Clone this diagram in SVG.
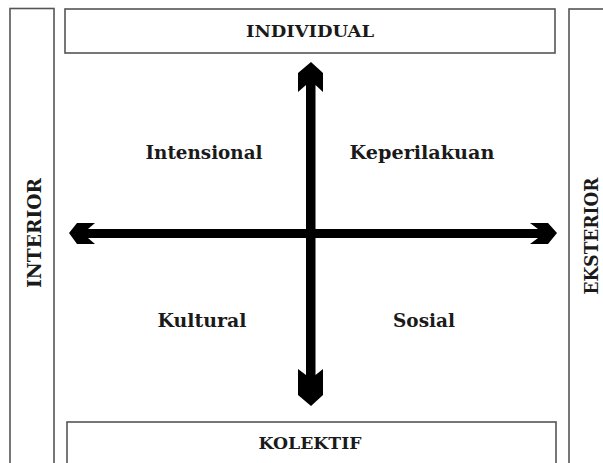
<svg xmlns="http://www.w3.org/2000/svg" width="603" height="463" viewBox="0 0 603 463">
<style>
.box{fill:#fff;stroke:#555;stroke-width:1.6}
.t{font-family:"DejaVu Serif","Liberation Serif",serif;font-weight:bold;fill:#1a1a1a;text-anchor:middle}
.arr{fill:#000}
</style>
<rect width="603" height="463" fill="#fff"/>
<g id="interior"><rect class="box" x="10" y="8.5" width="44" height="470"/>
<text class="t" font-size="18" transform="translate(41,233) rotate(-90)" textLength="110" lengthAdjust="spacingAndGlyphs">INTERIOR</text></g>
<g id="individual"><rect class="box" x="65" y="9" width="490" height="44"/>
<text class="t" x="310" y="37" font-size="17.5" textLength="128" lengthAdjust="spacingAndGlyphs">INDIVIDUAL</text></g>
<g id="eksterior"><rect class="box" x="569" y="9" width="50" height="470"/>
<text class="t" font-size="18" transform="translate(598,236) rotate(-90)" textLength="117" lengthAdjust="spacingAndGlyphs">EKSTERIOR</text></g>
<g id="kolektif"><rect class="box" x="67" y="422" width="489" height="60"/>
<text class="t" x="310" y="449" font-size="17.5" textLength="103" lengthAdjust="spacingAndGlyphs">KOLEKTIF</text></g>
<g id="connectors">
<polygon class="arr" points="69,233 77,223 95,223 88,229 538,229 530,223 548,223 557,233 548,244 530,244 538,238 88,238 95,244 77,244"/>
<polygon class="arr" points="311,62 323,73 323,92 315.5,85 315.5,375 323,369 323,395 311,406 298,395 298,369 306,375 306,85 298,92 298,73"/>
</g>
<g id="intensional"><text class="t" x="204" y="159" font-size="19" textLength="117" lengthAdjust="spacingAndGlyphs">Intensional</text></g>
<g id="keperilakuan"><text class="t" x="422" y="159" font-size="19" textLength="145" lengthAdjust="spacingAndGlyphs">Keperilakuan</text></g>
<g id="kultural"><text class="t" x="202" y="327" font-size="19" textLength="89" lengthAdjust="spacingAndGlyphs">Kultural</text></g>
<g id="sosial"><text class="t" x="424" y="327" font-size="19" textLength="62" lengthAdjust="spacingAndGlyphs">Sosial</text></g>
</svg>
